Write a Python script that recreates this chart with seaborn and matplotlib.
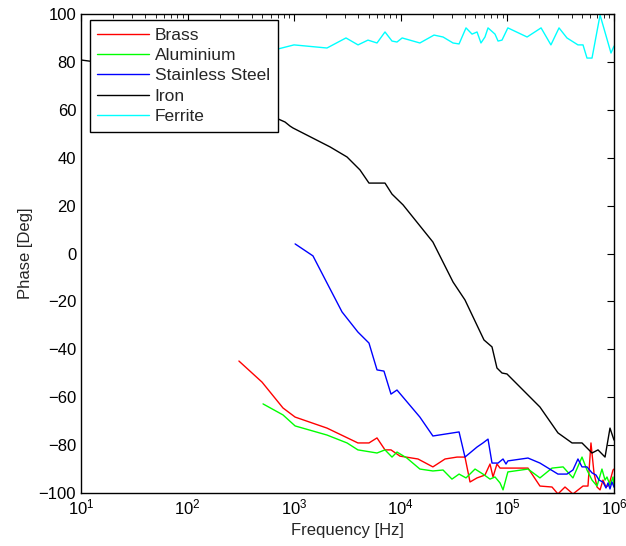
import numpy as np
import pandas as pd
import matplotlib
matplotlib.use("Agg")
import matplotlib.pyplot as plt
import seaborn as sns

# ---- data ----
brass_f = [303, 499, 785, 1020, 2030, 3960, 5030, 5980, 7110, 8090, 9820, 14500, 20000,
           26000, 33700, 40000, 44600, 51900, 61600, 68700, 73300, 79800, 85300, 94900,
           156000, 202000, 262000, 298000, 347000, 412000, 512000, 570000, 608000, 649000,
           693000, 740000, 788000, 841000, 897000, 979000, 1000000]
brass_p = [-44.9, -53.7, -64.5, -68.3, -72.9, -79.1, -79.1, -77.0, -82.0, -82.0, -84.6, -85.8,
           -89.1, -85.8, -85.0, -85.0, -95.4, -93.7, -92.5, -87.9, -93.3, -87.9, -89.6, -89.6,
           -89.6, -97.1, -97.5, -100.4, -97.5, -100.4, -97.1, -97.1, -79.1, -91.6, -97.5,
           -98.7, -94.6, -97.5, -96.7, -90.4, -90.0]

alu_f = [510, 785, 1020, 2030, 3130, 3960, 5980, 7110, 8270, 9210, 11400, 15100, 20000, 24900,
         30200, 35200, 40900, 49700, 59000, 68700, 76500, 85300, 91000, 101000, 156000,
         202000, 262000, 333000, 412000, 501000, 558000, 622000, 693000, 771000, 824000,
         859000, 917000, 979000, 1000000]
alu_p = [-62.8, -67.4, -72.0, -75.8, -79.1, -82.0, -83.3, -82.0, -85.0, -82.9, -85.4, -90.0,
         -90.8, -90.4, -94.2, -92.1, -93.7, -90.0, -92.1, -94.2, -93.3, -95.8, -98.7, -91.2,
         -90.0, -93.7, -89.6, -89.1, -93.7, -85.0, -90.4, -94.6, -97.1, -90.0, -94.6, -93.3,
         -96.7, -93.3, -97.5]

steel_f = [1020, 1500, 2030, 2810, 3960, 5030, 5980, 6950, 8090, 9210, 15100, 20000, 35200,
           40000, 51900, 59000, 65800, 71700, 81700, 91000, 97000, 101000, 156000, 202000,
           298000, 362000, 412000, 459000, 501000, 558000, 622000, 678000, 723000, 788000,
           841000, 879000, 917000, 957000, 1000000]
steel_p = [4.0, -1.0, -12.3, -24.4, -32.8, -37.4, -48.6, -49.1, -58.7, -57.0, -68.3, -76.2,
           -74.5, -85.0, -80.8, -79.1, -77.5, -87.5, -87.5, -85.8, -87.9, -86.6, -85.4, -87.5,
           -92.1, -92.1, -90.4, -85.8, -89.1, -89.1, -91.6, -92.5, -94.6, -95.4, -97.9, -95.8,
           -98.3, -95.4, -97.5]

iron_f = [10, 20, 50, 100, 200, 400, 705, 820, 914, 975, 2170, 3130, 4140, 5030, 7110, 8270,
          10500, 20000, 30900, 40000, 60300, 71700, 79800, 89000, 99100, 202000, 298000,
          404000, 501000, 622000, 708000, 824000, 917000, 1000000]
iron_p = [80.8, 79.0, 76.0, 72.0, 66.0, 60.0, 56.2, 54.9, 53.2, 52.4, 44.5, 40.3, 34.9, 29.4,
          29.4, 24.8, 20.3, 4.8, -11.9, -19.4, -36.1, -39.0, -47.8, -49.9, -50.3, -64.1,
          -74.9, -79.1, -79.1, -83.3, -82.0, -85.0, -72.9, -77.9]

ferrite_f = [150, 300, 500, 705, 996, 2030, 3060, 3970, 4920, 5980, 7110, 8270, 9210, 10300,
             15100, 20500, 24900, 30900, 35200, 40900, 46600, 51900, 56500, 61600, 65800,
             76500, 81700, 89000, 101000, 153000, 207000, 256000, 305000, 362000, 459000,
             512000, 558000, 622000, 740000, 937000, 1000000]
ferrite_p = [84.0, 86.0, 85.0, 85.4, 87.1, 85.8, 90.0, 87.1, 89.1, 87.9, 92.5, 88.7, 88.3, 90.0,
             87.9, 91.2, 90.4, 87.9, 87.5, 94.2, 91.6, 92.5, 87.9, 90.4, 94.2, 91.6, 88.7,
             89.1, 94.2, 90.4, 94.2, 87.1, 94.2, 90.0, 87.1, 87.1, 81.6, 81.6, 99.6, 83.7, 86.6]

materials = ["Brass", "Aluminium", "Stainless Steel", "Iron", "Ferrite"]
colors = ["#ff0000", "#00ff00", "#0000ff", "#000000", "#00ffff"]

series = {
    "Brass": (brass_f, brass_p),
    "Aluminium": (alu_f, alu_p),
    "Stainless Steel": (steel_f, steel_p),
    "Iron": (iron_f, iron_p),
    "Ferrite": (ferrite_f, ferrite_p),
}
frames = []
for name in materials:
    f, p = series[name]
    frames.append(pd.DataFrame({"Frequency": f, "Phase": p, "Material": name}))
df = pd.concat(frames, ignore_index=True)

# ---- plot ----
sns.set_style("white")
plt.rcParams["font.family"] = ["Liberation Sans", "DejaVu Sans"]
plt.rcParams["mathtext.fontset"] = "custom"
plt.rcParams["mathtext.rm"] = "Liberation Sans"
plt.rcParams["mathtext.it"] = "Liberation Sans"

fig = plt.figure(figsize=(6.26, 5.46), dpi=100)
ax = fig.add_axes([81 / 626, 1 - 493 / 546, (614 - 81) / 626, (493 - 14) / 546])

sns.lineplot(data=df, x="Frequency", y="Phase", hue="Material", hue_order=materials,
             palette=dict(zip(materials, colors)), estimator=None, sort=False,
             linewidth=1.0, ax=ax)

ax.set_xscale("log")
ax.set_xlim(10, 1e6)
ax.set_ylim(-100, 100)
ax.set_yticks(np.arange(-100, 101, 20))
ax.set_xlabel("Frequency [Hz]", fontsize=12)
ax.set_ylabel("Phase [Deg]", fontsize=12)
ax.tick_params(axis="both", which="both", direction="in", top=True, right=True,
               labelsize=12, colors="black")
ax.tick_params(which="major", length=5, width=0.8)
ax.tick_params(which="minor", length=3, width=0.6)
ax.xaxis.set_minor_locator(matplotlib.ticker.LogLocator(base=10, subs=np.arange(2, 10), numticks=20))
for s in ax.spines.values():
    s.set_visible(True)
    s.set_color("black")
    s.set_linewidth(1.0)

handles, labels = ax.get_legend_handles_labels()
leg = ax.legend(handles, labels, loc="upper left", bbox_to_anchor=(0.016, 0.988),
                prop={"size": 12.5}, frameon=True, fancybox=False, framealpha=1,
                edgecolor="black", handlelength=3.0, handletextpad=0.3,
                labelspacing=0.3, borderpad=0.45, borderaxespad=0)
leg.get_frame().set_linewidth(1.0)

fig.savefig("out.png", dpi=100)
